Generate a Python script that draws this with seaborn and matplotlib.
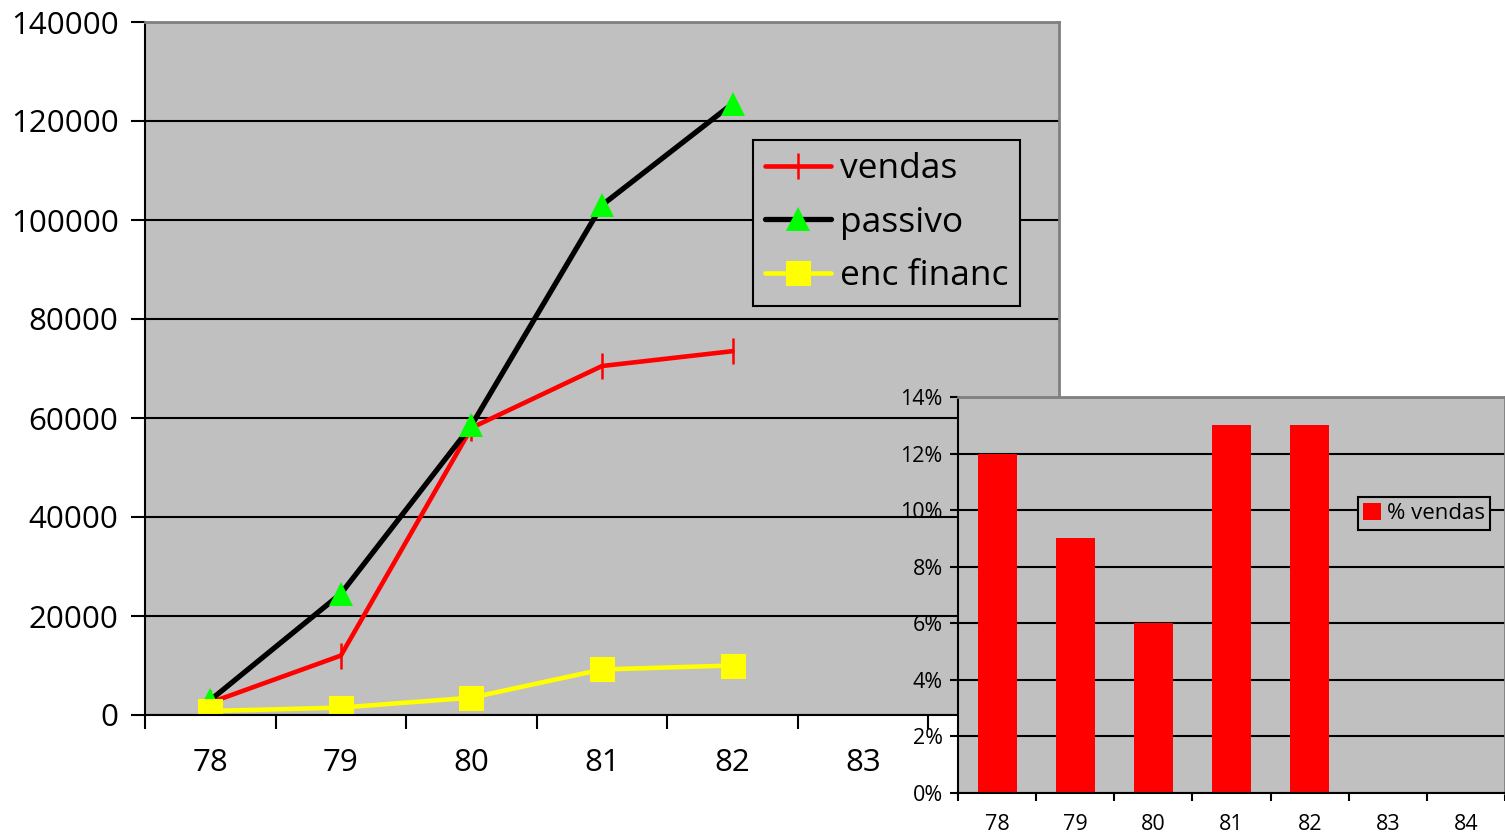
import numpy as np
import pandas as pd
import seaborn as sns
import matplotlib.pyplot as plt
from matplotlib.ticker import PercentFormatter, StrMethodFormatter

# dados
anos = [78, 79, 80, 81, 82]
todos_anos = ["78", "79", "80", "81", "82", "83", "84"]
vendas = [2500, 12000, 58000, 70500, 73500]
passivo = [3000, 24500, 58500, 103000, 123500]
enc_financ = [800, 1500, 3500, 9200, 10000]
pct_vendas = [0.12, 0.09, 0.06, 0.13, 0.13]

sns.set_style("white")
plt.rcParams['font.family'] = ['Open Sans', 'DejaVu Sans']
plt.rcParams['text.color'] = 'black'
plt.rcParams['xtick.labelcolor'] = 'black'
plt.rcParams['ytick.labelcolor'] = 'black'

cinza = "#C0C0C0"
W, H = 1505, 836
fig = plt.figure(figsize=(W / 100, H / 100), dpi=100)

# grafico principal (linhas)
ax = fig.add_axes([145 / W, 1 - 715 / H, (1059 - 145) / W, (715 - 22) / H])
ax.set_facecolor(cinza)

df = pd.DataFrame({"ano": anos, "vendas": vendas, "passivo": passivo,
                   "enc financ": enc_financ})

sns.lineplot(data=df, x="ano", y="vendas", ax=ax, color="red", lw=3.3,
             marker="|", markersize=19, markeredgewidth=1.8,
             markeredgecolor="red", label="vendas")
sns.lineplot(data=df, x="ano", y="passivo", ax=ax, color="black", lw=3.8,
             marker="^", markersize=17, markerfacecolor="#00FF00",
             markeredgecolor="#00FF00", markeredgewidth=0, label="passivo")
sns.lineplot(data=df, x="ano", y="enc financ", ax=ax, color="#FFFF00", lw=3.3,
             marker="s", markersize=18, markerfacecolor="#FFFF00",
             markeredgecolor="#FFFF00", markeredgewidth=0, label="enc financ")

ax.set_xlim(77.5, 84.5)
ax.set_ylim(0, 140000)
ax.set_yticks(np.arange(0, 140001, 20000))
ax.yaxis.set_major_formatter(StrMethodFormatter("{x:.0f}"))
ax.set_xticks(np.arange(77.5, 85, 1))
ax.set_xticklabels([])
ax.set_xticks(np.arange(78, 85), minor=True)
ax.set_xticklabels(todos_anos, minor=True)
ax.set_xlabel("")
ax.set_ylabel("")
ax.yaxis.grid(True, color="black", lw=1.5)
ax.set_axisbelow(True)
ax.tick_params(axis="both", which="major", direction="out", length=10,
               width=1.5, color="black", labelsize=22.5, left=True, bottom=True)
ax.tick_params(axis="y", pad=9)
ax.tick_params(axis="x", which="minor", length=0, labelsize=22.5, pad=24)
for s in ["left", "bottom"]:
    ax.spines[s].set_color("black")
    ax.spines[s].set_linewidth(1.5)
for s in ["top", "right"]:
    ax.spines[s].set_color("#808080")
    ax.spines[s].set_linewidth(2)

leg = ax.legend(loc="upper left", bbox_to_anchor=(0.665, 0.83), fontsize=25.5,
                frameon=True, fancybox=False, edgecolor="black",
                facecolor=cinza, framealpha=1, handlelength=1.85,
                labelspacing=0.55, handletextpad=0.25, borderpad=0.35,
                borderaxespad=0)
leg.get_frame().set_linewidth(1.5)

# grafico inserido (barras)
ax2 = fig.add_axes([958 / W, 1 - 793 / H, (W - 958) / W, (793 - 397) / H])
ax2.set_facecolor(cinza)
sns.barplot(x=[str(a) for a in anos], y=pct_vendas, order=todos_anos,
            color="red", saturation=1, width=0.5, linewidth=0,
            edgecolor="red", ax=ax2)
ax2.set_xlim(-0.5, 6.5)
ax2.set_ylim(0, 0.14)
ax2.set_yticks(np.arange(0, 0.141, 0.02))
ax2.yaxis.set_major_formatter(PercentFormatter(1.0, decimals=0))
ax2.set_xticks(np.arange(-0.5, 7, 1))
ax2.set_xticklabels([])
ax2.set_xticks(range(7), minor=True)
ax2.set_xticklabels(todos_anos, minor=True)
ax2.set_xlabel("")
ax2.set_ylabel("")
ax2.yaxis.grid(True, color="black", lw=1.5)
ax2.set_axisbelow(True)
ax2.tick_params(axis="both", which="major", direction="out", length=6,
                width=1.5, color="black", labelsize=15.5, left=True, bottom=True)
ax2.tick_params(axis="y", pad=5)
ax2.tick_params(axis="x", which="minor", length=0, labelsize=15.5, pad=15)
for s in ["left", "bottom"]:
    ax2.spines[s].set_color("black")
    ax2.spines[s].set_linewidth(1.5)
for s in ["top", "right"]:
    ax2.spines[s].set_color("#808080")
    ax2.spines[s].set_linewidth(2)

leg2 = ax2.legend([ax2.patches[0]], ["% vendas"], loc="upper left",
                  bbox_to_anchor=(0.731, 0.747), fontsize=16, frameon=True,
                  fancybox=False, edgecolor="black", facecolor=cinza,
                  framealpha=1, handlelength=0.8, handleheight=0.8,
                  handletextpad=0.25, borderpad=0.25, borderaxespad=0)
leg2.get_frame().set_linewidth(1.5)

fig.savefig("out.png", dpi=100)
